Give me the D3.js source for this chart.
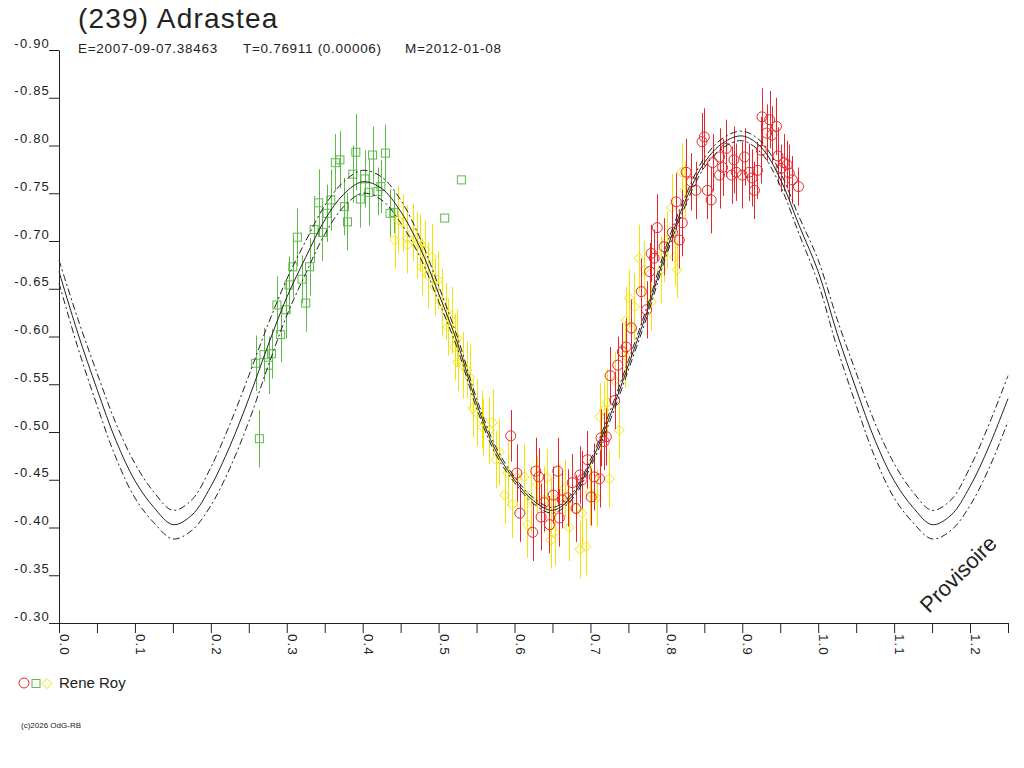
<!DOCTYPE html>
<html>
<head>
<meta charset="utf-8">
<script src="https://cdn.jsdelivr.net/npm/d3@7"></script>
<style>
  body { margin: 0; background: #fff; }
  svg { display: block; }
  text { font-family: "Liberation Sans", Arial, sans-serif; fill: #222; }
</style>
</head>
<body>
<div id="chart"></div>
<script>
// tick labels
const yTicks = [-0.90, -0.85, -0.80, -0.75, -0.70, -0.65, -0.60, -0.55, -0.50, -0.45, -0.40, -0.35, -0.30];
const xMajor = [0.0, 0.1, 0.2, 0.3, 0.4, 0.5, 0.6, 0.7, 0.8, 0.9, 1.0, 1.1, 1.2];
const xMinor = [0.05, 0.15, 0.25, 0.35, 0.45, 0.55, 0.65, 0.75, 0.85, 0.95, 1.05, 1.15, 1.25];

// fitted light curve and its spread
const fitPhase = [0.000, 0.025, 0.050, 0.075, 0.100, 0.125, 0.150, 0.175, 0.200, 0.225,
  0.250, 0.275, 0.300, 0.325, 0.350, 0.375, 0.400, 0.425, 0.450, 0.475,
  0.500, 0.525, 0.550, 0.575, 0.600, 0.625, 0.650, 0.675, 0.700, 0.725,
  0.750, 0.775, 0.800, 0.825, 0.850, 0.875, 0.900, 0.925, 0.950, 0.975,
  1.000, 1.025, 1.050, 1.075, 1.100, 1.125, 1.150, 1.175, 1.200, 1.225, 1.250];
const fitMag = [-0.668, -0.603, -0.545, -0.491, -0.449, -0.421, -0.403, -0.413, -0.443, -0.485,
  -0.535, -0.590, -0.641, -0.683, -0.722, -0.749, -0.762, -0.755, -0.731, -0.694,
  -0.645, -0.593, -0.530, -0.481, -0.450, -0.428, -0.418, -0.432, -0.467, -0.515,
  -0.570, -0.627, -0.690, -0.742, -0.782, -0.803, -0.810, -0.798, -0.765, -0.716,
  -0.668, -0.603, -0.545, -0.491, -0.449, -0.421, -0.403, -0.413, -0.443, -0.485, -0.535];
const fitSpread = [0.012, 0.015, 0.017, 0.018, 0.018, 0.016, 0.015, 0.016, 0.020, 0.023,
  0.024, 0.022, 0.019, 0.017, 0.015, 0.013, 0.012, 0.012, 0.012, 0.010,
  0.008, 0.006, 0.005, 0.004, 0.003, 0.003, 0.003, 0.003, 0.004, 0.005,
  0.005, 0.005, 0.005, 0.005, 0.005, 0.005, 0.005, 0.006, 0.007, 0.009,
  0.012, 0.015, 0.017, 0.018, 0.018, 0.016, 0.015, 0.016, 0.020, 0.023, 0.024];

// observations [phase, magnitude, error]
const greenObs = [
  [0.264, -0.493, 0.030], [0.259, -0.572, 0.029], [0.270, -0.581, 0.028], [0.276, -0.570, 0.030],
  [0.280, -0.582, 0.026], [0.292, -0.602, 0.029], [0.287, -0.633, 0.030], [0.299, -0.628, 0.030],
  [0.303, -0.654, 0.030], [0.308, -0.673, 0.032], [0.320, -0.660, 0.025], [0.325, -0.635, 0.030],
  [0.330, -0.673, 0.030], [0.314, -0.704, 0.030], [0.336, -0.712, 0.035], [0.347, -0.709, 0.030],
  [0.342, -0.740, 0.035], [0.353, -0.729, 0.030], [0.358, -0.743, 0.032], [0.364, -0.782, 0.030],
  [0.370, -0.785, 0.030], [0.376, -0.736, 0.030], [0.380, -0.720, 0.030], [0.387, -0.770, 0.030],
  [0.391, -0.793, 0.040], [0.397, -0.744, 0.030], [0.403, -0.765, 0.030], [0.408, -0.751, 0.035],
  [0.413, -0.790, 0.030], [0.420, -0.752, 0.025], [0.424, -0.757, 0.028], [0.430, -0.792, 0.030],
  [0.436, -0.729, 0.025], [0.441, -0.730, 0.022], [0.530, -0.764, 0.000], [0.508, -0.724, 0.000]
];
const yellowObs = [
  [0.442, -0.701, 0.030], [0.447, -0.722, 0.035], [0.453, -0.719, 0.030], [0.459, -0.703, 0.035],
  [0.466, -0.709, 0.030], [0.459, -0.696, 0.030], [0.471, -0.696, 0.035], [0.475, -0.698, 0.030],
  [0.482, -0.691, 0.030], [0.491, -0.683, 0.035], [0.478, -0.673, 0.030], [0.486, -0.664, 0.035],
  [0.499, -0.659, 0.030], [0.495, -0.652, 0.030], [0.504, -0.636, 0.035], [0.510, -0.626, 0.030],
  [0.517, -0.617, 0.035], [0.512, -0.610, 0.030], [0.524, -0.598, 0.030], [0.521, -0.589, 0.035],
  [0.525, -0.573, 0.030], [0.532, -0.570, 0.035], [0.537, -0.565, 0.030], [0.541, -0.557, 0.035],
  [0.545, -0.525, 0.030], [0.550, -0.520, 0.035], [0.557, -0.513, 0.030], [0.571, -0.510, 0.035],
  [0.558, -0.505, 0.030], [0.567, -0.502, 0.035], [0.580, -0.479, 0.035], [0.576, -0.471, 0.030],
  [0.591, -0.457, 0.035], [0.587, -0.434, 0.030], [0.597, -0.424, 0.035], [0.603, -0.452, 0.030],
  [0.613, -0.453, 0.035], [0.617, -0.403, 0.035], [0.622, -0.429, 0.035], [0.630, -0.445, 0.030],
  [0.639, -0.429, 0.035], [0.643, -0.452, 0.030], [0.648, -0.418, 0.035], [0.648, -0.387, 0.030],
  [0.653, -0.395, 0.035], [0.659, -0.431, 0.035], [0.666, -0.441, 0.030], [0.672, -0.400, 0.035],
  [0.681, -0.420, 0.030], [0.689, -0.415, 0.035], [0.686, -0.377, 0.030], [0.694, -0.380, 0.030],
  [0.699, -0.437, 0.035], [0.708, -0.431, 0.030], [0.725, -0.451, 0.030], [0.712, -0.516, 0.035],
  [0.738, -0.502, 0.030], [0.718, -0.523, 0.030], [0.722, -0.531, 0.035], [0.732, -0.554, 0.030],
  [0.745, -0.581, 0.035], [0.754, -0.607, 0.030], [0.747, -0.617, 0.035], [0.751, -0.640, 0.030],
  [0.758, -0.631, 0.035], [0.764, -0.682, 0.035], [0.771, -0.670, 0.030], [0.780, -0.636, 0.030],
  [0.793, -0.670, 0.035], [0.797, -0.687, 0.030], [0.801, -0.701, 0.030], [0.811, -0.683, 0.030],
  [0.814, -0.670, 0.030], [0.807, -0.735, 0.035], [0.824, -0.753, 0.030], [0.820, -0.772, 0.030]
];
const redObs = [
  [0.595, -0.496, 0.027], [0.603, -0.457, 0.030], [0.607, -0.415, 0.030], [0.624, -0.395, 0.030],
  [0.628, -0.459, 0.035], [0.632, -0.453, 0.030], [0.635, -0.411, 0.035], [0.639, -0.426, 0.030],
  [0.646, -0.403, 0.030], [0.651, -0.434, 0.030], [0.657, -0.459, 0.035], [0.659, -0.410, 0.030],
  [0.663, -0.429, 0.030], [0.670, -0.431, 0.030], [0.676, -0.447, 0.030], [0.681, -0.420, 0.035],
  [0.686, -0.455, 0.030], [0.689, -0.450, 0.030], [0.696, -0.471, 0.030], [0.701, -0.432, 0.030],
  [0.705, -0.453, 0.035], [0.712, -0.451, 0.030], [0.714, -0.494, 0.030], [0.721, -0.495, 0.030],
  [0.718, -0.490, 0.030], [0.732, -0.533, 0.030], [0.726, -0.559, 0.030], [0.736, -0.570, 0.030],
  [0.742, -0.584, 0.030], [0.747, -0.589, 0.030], [0.754, -0.609, 0.030], [0.767, -0.647, 0.035],
  [0.774, -0.628, 0.030], [0.778, -0.668, 0.030], [0.784, -0.682, 0.030], [0.780, -0.687, 0.030],
  [0.788, -0.714, 0.035], [0.797, -0.694, 0.030], [0.808, -0.709, 0.030], [0.817, -0.701, 0.030],
  [0.821, -0.719, 0.035], [0.813, -0.741, 0.030], [0.826, -0.772, 0.035], [0.833, -0.762, 0.030],
  [0.839, -0.753, 0.030], [0.854, -0.753, 0.030], [0.859, -0.743, 0.035], [0.847, -0.804, 0.030],
  [0.850, -0.809, 0.030], [0.861, -0.782, 0.030], [0.870, -0.788, 0.030], [0.874, -0.777, 0.030],
  [0.870, -0.769, 0.035], [0.879, -0.797, 0.030], [0.886, -0.769, 0.030], [0.889, -0.785, 0.035],
  [0.892, -0.772, 0.030], [0.903, -0.788, 0.030], [0.900, -0.769, 0.035], [0.909, -0.772, 0.030],
  [0.913, -0.766, 0.030], [0.916, -0.753, 0.030], [0.920, -0.774, 0.030], [0.925, -0.795, 0.035],
  [0.926, -0.830, 0.030], [0.932, -0.813, 0.030], [0.936, -0.827, 0.030], [0.945, -0.820, 0.030],
  [0.939, -0.811, 0.030], [0.947, -0.789, 0.030], [0.951, -0.776, 0.025], [0.955, -0.782, 0.030],
  [0.959, -0.780, 0.025], [0.962, -0.771, 0.030], [0.966, -0.764, 0.025], [0.974, -0.757, 0.020]
];

const RED = "#e8262c", GREEN = "#5dba47", YELLOW = "#f4e400";

const svg = d3.select("#chart").append("svg")
    .attr("width", 1024)
    .attr("height", 768);

const x = d3.scaleLinear().domain([0, 1.25]).range([59, 1008]);
const y = d3.scaleLinear().domain([-0.90, -0.30]).range([50, 623]);

// y axis
const yAxis = svg.append("g")
    .attr("transform", "translate(59,0)")
    .call(d3.axisLeft(y).tickValues(yTicks).tickSize(10).tickSizeOuter(0)
        .tickFormat(d => d.toFixed(2)));
yAxis.select(".domain").attr("stroke", "#222");
yAxis.selectAll(".tick line").attr("stroke", "#222");
yAxis.selectAll("text")
    .attr("x", -9)
    .attr("dy", "-3")
    .attr("font-size", 13)
    .attr("letter-spacing", 1.2)
    .attr("font-family", "Liberation Sans, Arial, sans-serif")
    .attr("fill", "#222");

// x axis
const xAxis = svg.append("g")
    .attr("transform", "translate(0,623)")
    .call(d3.axisBottom(x).tickValues(xMajor.concat(xMinor)).tickSize(10).tickSizeOuter(0)
        .tickFormat(""));
xAxis.select(".domain").attr("stroke", "#222");
xAxis.selectAll(".tick line").attr("stroke", "#222");

svg.append("g").selectAll("text")
    .data(xMajor)
    .join("text")
    .attr("transform", d => `translate(${x(d) + 1},634) rotate(90)`)
    .attr("font-size", 13.5)
    .attr("letter-spacing", 1)
    .text(d => d.toFixed(1));

// observations
function drawSeries(data, color, shape) {
    const g = svg.append("g");
    g.selectAll("line")
        .data(data.filter(d => d[2] > 0))
        .join("line")
        .attr("x1", d => Math.round(x(d[0])) + 0.5)
        .attr("x2", d => Math.round(x(d[0])) + 0.5)
        .attr("y1", d => y(d[1] - d[2]))
        .attr("y2", d => y(d[1] + d[2]))
        .attr("stroke", color)
        .attr("stroke-width", 1);
    const m = g.selectAll(".mk").data(data);
    if (shape === "circle") {
        m.join("circle")
            .attr("cx", d => x(d[0]))
            .attr("cy", d => y(d[1]))
            .attr("r", 5)
            .attr("fill", "none")
            .attr("stroke", color);
    } else if (shape === "square") {
        m.join("rect")
            .attr("x", d => x(d[0]) - 4)
            .attr("y", d => y(d[1]) - 4)
            .attr("width", 8)
            .attr("height", 8)
            .attr("fill", "none")
            .attr("stroke", color);
    } else {
        m.join("path")
            .attr("d", d => {
                const cx = x(d[0]), cy = y(d[1]);
                return `M${cx - 5},${cy}L${cx},${cy - 5}L${cx + 5},${cy}L${cx},${cy + 5}Z`;
            })
            .attr("fill", "none")
            .attr("stroke", color);
    }
}
drawSeries(greenObs, GREEN, "square");
drawSeries(yellowObs, YELLOW, "diamond");
drawSeries(redObs, RED, "circle");

// fitted curve with spread
const fit = fitPhase.map((p, i) => ({ p: p, m: fitMag[i], s: fitSpread[i] }));
const lineMid = d3.line().x(d => x(d.p)).y(d => y(d.m)).curve(d3.curveCatmullRom);
const lineUp = d3.line().x(d => x(d.p)).y(d => y(d.m - d.s)).curve(d3.curveCatmullRom);
const lineLo = d3.line().x(d => x(d.p)).y(d => y(d.m + d.s)).curve(d3.curveCatmullRom);

svg.append("path").datum(fit).attr("d", lineUp)
    .attr("fill", "none").attr("stroke", "#222").attr("stroke-width", 1)
    .attr("stroke-dasharray", "7,3,2,3");
svg.append("path").datum(fit).attr("d", lineLo)
    .attr("fill", "none").attr("stroke", "#222").attr("stroke-width", 1)
    .attr("stroke-dasharray", "7,3,2,3");
svg.append("path").datum(fit).attr("d", lineMid)
    .attr("fill", "none").attr("stroke", "#222").attr("stroke-width", 1);

// titles
svg.append("text")
    .attr("x", 78).attr("y", 28)
    .attr("font-size", 28)
    .attr("letter-spacing", 1.2)
    .text("(239) Adrastea");

const sub = svg.append("g").attr("font-size", 13.5).attr("letter-spacing", 0.7);
sub.append("text").attr("x", 78).attr("y", 53).text("E=2007-09-07.38463");
sub.append("text").attr("x", 243).attr("y", 53).text("T=0.76911 (0.00006)");
sub.append("text").attr("x", 405).attr("y", 53).text("M=2012-01-08");

// watermark
svg.append("text")
    .attr("transform", "translate(929,614) rotate(-45)")
    .attr("font-size", 22)
    .text("Provisoire");

// legend
svg.append("circle").attr("cx", 24).attr("cy", 683).attr("r", 5)
    .attr("fill", "none").attr("stroke", RED);
svg.append("rect").attr("x", 32).attr("y", 679.5).attr("width", 8).attr("height", 8)
    .attr("fill", "none").attr("stroke", GREEN);
svg.append("path").attr("d", "M42,683.5L47,678.5L52,683.5L47,688.5Z")
    .attr("fill", "none").attr("stroke", YELLOW);
svg.append("text")
    .attr("x", 59).attr("y", 688)
    .attr("font-size", 15)
    .text("Rene Roy");

svg.append("text")
    .attr("x", 21).attr("y", 728)
    .attr("font-size", 8)
    .text("(c)2026 OdG-RB");
</script>
</body>
</html>
